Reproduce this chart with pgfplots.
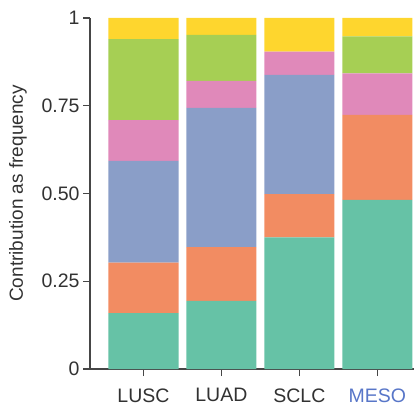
\documentclass[border=0pt]{standalone}
\usepackage{fontspec}
\setmainfont{Liberation Sans}
\usepackage{pgfplots}
\pgfplotsset{compat=1.18}
\usepackage{pgfplotstable}
\definecolor{cteal}{RGB}{102,194,166}
\definecolor{corange}{RGB}{242,140,98}
\definecolor{cblue}{RGB}{138,158,200}
\definecolor{cpink}{RGB}{224,137,186}
\definecolor{cgreen}{RGB}{166,207,84}
\definecolor{cyellow}{RGB}{254,214,46}
\definecolor{labelgray}{RGB}{50,50,50}
\definecolor{axgray}{RGB}{70,70,70}
\definecolor{mesoblue}{RGB}{88,118,200}
\pgfplotstableread{
x teal orange blue pink green yellow
0 0.159 0.144 0.290 0.116 0.231 0.060
1 0.194 0.153 0.397 0.077 0.131 0.048
2 0.375 0.123 0.340 0.066 0.000 0.096
3 0.482 0.242 0.000 0.118 0.106 0.052
}\data
\begin{document}
\begin{tikzpicture}
\path[use as bounding box] (-90pt,-38pt) rectangle (329pt,369pt);
\begin{axis}[
  scale only axis, width=324pt, height=351pt,
  xmin=-0.685, xmax=3.47, ymin=0, ymax=1,
  ybar stacked, bar width=0.9,
  axis lines*=left,
  axis line style={draw=axgray, line width=1.3pt},
  tick style={draw=axgray, line width=1.3pt},
  tick align=outside, major tick length=7pt,
  xtick={0,1,2,3},
  xticklabels={LUSC,LUAD,SCLC,{\color{mesoblue}MESO}},
  xticklabel style={yshift=-9pt},
  ytick={0,0.25,0.5,0.75,1},
  yticklabels={0,0.25,0.50,0.75,1},
  ticklabel style={font=\fontsize{19.5}{22}\selectfont, text=labelgray},
  ylabel={Contribution as frequency},
  ylabel style={font=\fontsize{19}{22}\selectfont, text=labelgray, at={(axis description cs:-0.222,0.5)}, anchor=center},
  /pgf/number format/assume math mode=true,
]
\addplot[fill=cteal, draw=none] table[x=x,y=teal]{\data};
\addplot[fill=corange, draw=none] table[x=x,y=orange]{\data};
\addplot[fill=cblue, draw=none] table[x=x,y=blue]{\data};
\addplot[fill=cpink, draw=none] table[x=x,y=pink]{\data};
\addplot[fill=cgreen, draw=none] table[x=x,y=green]{\data};
\addplot[fill=cyellow, draw=none] table[x=x,y=yellow]{\data};
\end{axis}
\end{tikzpicture}
\end{document}
